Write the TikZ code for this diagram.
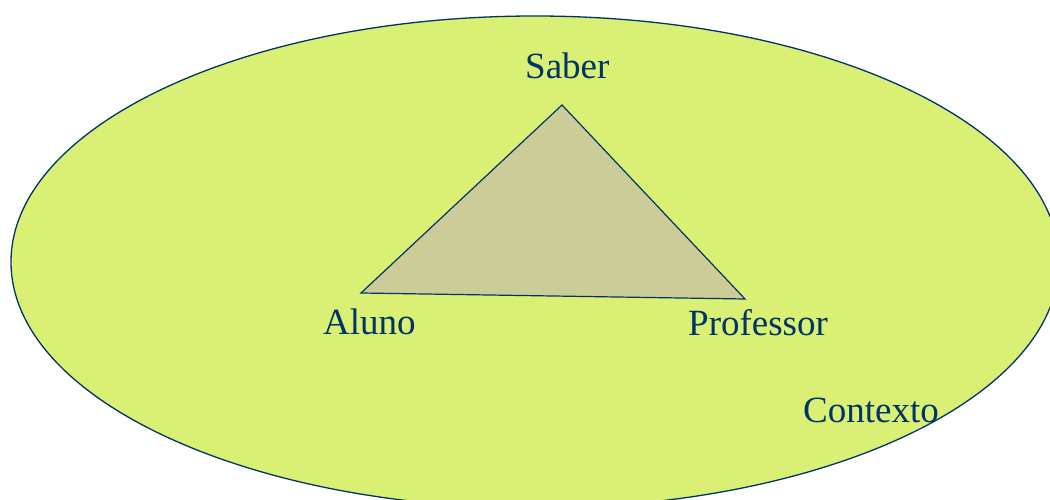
\documentclass[tikz,border=0pt]{standalone}
\usepackage{fontspec}
\setmainfont{Liberation Serif}
\definecolor{ellfill}{RGB}{217,240,117}
\definecolor{trifill}{RGB}{204,204,153}
\definecolor{navy}{RGB}{0,51,102}
\begin{document}
\begin{tikzpicture}[x=1pt,y=-1pt,
  lbl/.style={anchor=base west,inner sep=0pt,text=navy,font=\fontsize{37}{40}\selectfont}]
\useasboundingbox (0,0) rectangle (1050,500);
\begin{scope}
\clip (0,0) rectangle (1050,500);
\fill[ellfill] (535,262) ellipse [x radius=524, y radius=246];
\draw[navy,line width=1.3pt] (535,262) ellipse [x radius=524, y radius=246];
\end{scope}
\coordinate (top) at (562,105);
\coordinate (left) at (361,293);
\coordinate (right) at (745,299);
\draw[navy,fill=trifill,line width=1.2pt,line join=miter] (top) -- (left) -- (right) -- cycle;
\node[lbl] (saber) at (525,79) {Saber};
\node[lbl] (aluno) at (323,334) {Aluno};
\node[lbl] (prof) at (688,335) {Professor};
\node[lbl] (ctx) at (803,422) {Contexto};
\end{tikzpicture}
\end{document}
